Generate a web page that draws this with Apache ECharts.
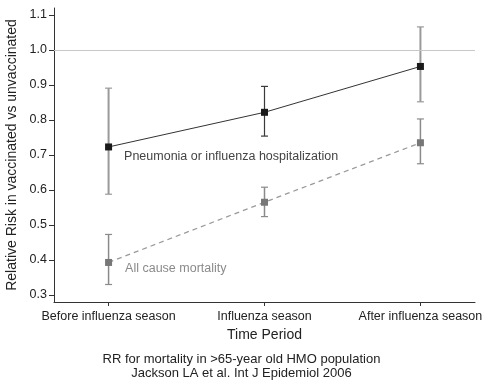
<!DOCTYPE html>
<html>
<head>
<meta charset="utf-8">
<script src="https://cdn.jsdelivr.net/npm/echarts@6/dist/echarts.min.js"></script>
<style>
html,body{margin:0;padding:0;background:#fff;}
#c{width:483px;height:381px;}
</style>
</head>
<body>
<div id="c"></div>
<script>
// ---- data ----
const categories = ['Before influenza season', 'Influenza season', 'After influenza season'];
const pneuRR = [0.723, 0.822, 0.953];
const pneuLo = [0.588, 0.754, 0.852];
const pneuHi = [0.891, 0.896, 1.066];
const mortRR = [0.393, 0.565, 0.735];
const mortLo = [0.330, 0.524, 0.675];
const mortHi = [0.473, 0.608, 0.803];
const yTicks = [0.3, 0.4, 0.5, 0.6, 0.7, 0.8, 0.9, 1.0, 1.1];
const refLine = 1.0;
const pneuLabel = 'Pneumonia or influenza hospitalization';
const mortLabel = 'All cause mortality';
const yName = 'Relative Risk in vaccinated vs unvaccinated';
const xName = 'Time Period';
const caption = ['RR for mortality in >65-year old HMO population', 'Jackson LA et al. Int J Epidemiol 2006'];

// ---- styles (kept separate from values) ----
const pneuBarColors = ['#9a9a9a', '#3a3a3a', '#9a9a9a'];
const pneuBarWidths = [2, 1.2, 2];
const mortBarColor = '#8a8a8a';

const FONT = 'Liberation Sans, Arial, Helvetica, sans-serif';
const chart = echarts.init(document.getElementById('c'), null, {renderer: 'canvas'});

function errData(lo, hi) {
  return lo.map((v, i) => [i, v, hi[i]]);
}
function errRender(colors, widths) {
  return function (params, api) {
    const x = api.value(0), lo = api.value(1), hi = api.value(2);
    const pLo = api.coord([x, lo]);
    const pHi = api.coord([x, hi]);
    const i = params.dataIndex;
    const c = Array.isArray(colors) ? colors[i] : colors;
    const w = Array.isArray(widths) ? widths[i] : widths;
    const hw = 3.5;
    const st = {stroke: c, lineWidth: w};
    const capSt = {stroke: c, lineWidth: 1.2};
    return {
      type: 'group',
      children: [
        {type: 'line', shape: {x1: pLo[0], y1: pLo[1], x2: pHi[0], y2: pHi[1]}, style: st},
        {type: 'line', shape: {x1: pHi[0] - hw, y1: pHi[1], x2: pHi[0] + hw, y2: pHi[1]}, style: capSt},
        {type: 'line', shape: {x1: pLo[0] - hw, y1: pLo[1], x2: pLo[0] + hw, y2: pLo[1]}, style: capSt}
      ]
    };
  };
}

const option = {
  animation: false,
  backgroundColor: '#fff',
  textStyle: {fontFamily: FONT},
  title: {
    text: caption.join('\n'),
    left: 'center',
    top: 347,
    textStyle: {fontFamily: FONT, fontSize: 13, fontWeight: 'normal', color: '#222', lineHeight: 14.5}
  },
  grid: {left: 54, right: 8, top: 8, bottom: 79, containLabel: false, outerBoundsMode: 'none'},
  xAxis: {
    type: 'value',
    min: -0.35,
    max: 2.35,
    name: xName,
    nameLocation: 'middle',
    nameGap: 21,
    nameTextStyle: {fontFamily: FONT, fontSize: 14, color: '#222'},
    axisLine: {show: true, onZero: false, lineStyle: {color: '#333', width: 1}},
    axisTick: {show: true, length: 4, lineStyle: {color: '#333'}, customValues: [0, 1, 2]},
    axisLabel: {
      customValues: [0, 1, 2],
      margin: 8,
      fontFamily: FONT, fontSize: 12.5, color: '#222',
      formatter: v => categories[Math.round(v)] || ''
    },
    splitLine: {show: false}
  },
  yAxis: {
    type: 'value',
    min: 0.28,
    max: 1.12,
    name: yName,
    nameLocation: 'middle',
    nameGap: 30,
    nameTextStyle: {fontFamily: FONT, fontSize: 14, color: '#222'},
    axisLine: {show: true, onZero: false, lineStyle: {color: '#333', width: 1}},
    axisTick: {show: true, length: 5, lineStyle: {color: '#333'}, customValues: yTicks},
    axisLabel: {
      customValues: yTicks,
      margin: 7,
      fontFamily: FONT, fontSize: 12.5, color: '#222',
      formatter: v => v.toFixed(1)
    },
    splitLine: {show: false}
  },
  series: [
    {
      type: 'custom',
      name: 'pneuErr',
      renderItem: errRender(pneuBarColors, pneuBarWidths),
      data: errData(pneuLo, pneuHi),
      encode: {x: 0, y: [1, 2]},
      z: 2,
      markLine: {
        silent: true,
        symbol: 'none',
        label: {show: false},
        lineStyle: {color: '#c8c8c8', width: 1, type: 'solid'},
        data: [{yAxis: refLine}]
      }
    },
    {
      type: 'custom',
      name: 'mortErr',
      renderItem: errRender(mortBarColor, 1.5),
      data: errData(mortLo, mortHi),
      encode: {x: 0, y: [1, 2]},
      z: 2
    },
    {
      type: 'line',
      name: 'pneu',
      data: pneuRR.map((v, i) => i === 0 ? {value: [i, v], label: {
        show: true, position: 'right', offset: [7, 10], formatter: pneuLabel,
        fontFamily: FONT, fontSize: 12.5, color: '#444'
      }} : [i, v]),
      symbol: 'rect',
      symbolSize: 7,
      itemStyle: {color: '#1a1a1a'},
      lineStyle: {color: '#333', width: 1, type: 'solid'},
      z: 5
    },
    {
      type: 'line',
      name: 'mort',
      data: mortRR.map((v, i) => i === 0 ? {value: [i, v], label: {
        show: true, position: 'right', offset: [8, 6], formatter: mortLabel,
        fontFamily: FONT, fontSize: 12.5, color: '#8a8a8a'
      }} : [i, v]),
      symbol: 'rect',
      symbolSize: 7,
      itemStyle: {color: '#777'},
      lineStyle: {color: '#9a9a9a', width: 1.3, type: [5, 4]},
      z: 5
    }
  ]
};
chart.setOption(option);
</script>
</body>
</html>
